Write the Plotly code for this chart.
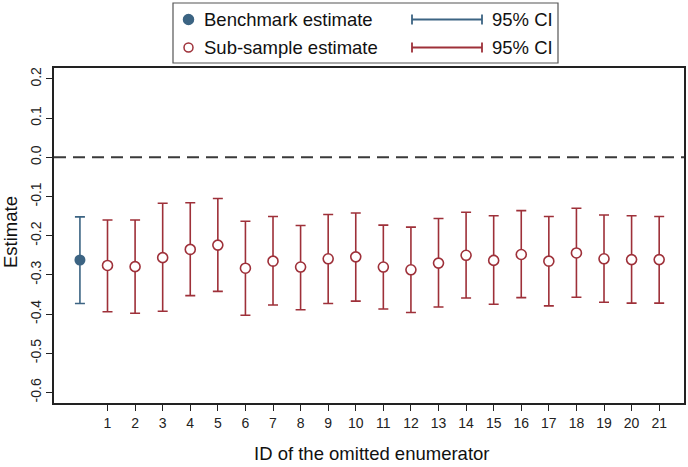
import plotly.graph_objects as go

# DATA
bench_x = [0]
bench_est = [-0.262]
bench_lo = [-0.373]
bench_hi = [-0.152]

sub_ids = list(range(1, 22))
sub_est = [-0.276, -0.279, -0.256, -0.235, -0.224, -0.283, -0.265, -0.280, -0.259, -0.254,
           -0.280, -0.287, -0.270, -0.250, -0.263, -0.248, -0.265, -0.244, -0.259, -0.261, -0.261]
sub_lo = [-0.394, -0.398, -0.393, -0.353, -0.342, -0.403, -0.377, -0.389, -0.373, -0.367,
          -0.387, -0.396, -0.382, -0.359, -0.375, -0.358, -0.379, -0.357, -0.370, -0.372, -0.372]
sub_hi = [-0.160, -0.160, -0.117, -0.116, -0.105, -0.163, -0.151, -0.174, -0.146, -0.142,
          -0.173, -0.178, -0.156, -0.140, -0.149, -0.136, -0.151, -0.130, -0.147, -0.149, -0.151]

y_ticks = [0.2, 0.1, 0.0, -0.1, -0.2, -0.3, -0.4, -0.5, -0.6]
y_labels = ["0.2", "0.1", "0.0", "-0.1", "-0.2", "-0.3", "-0.4", "-0.5", "-0.6"]

BLUE = "#3c6483"
RED = "#9e3039"
FONT = "Liberation Sans, Arial, sans-serif"

W, H = 688, 467
ML, MR, MT, MB = 54, 4, 68, 64
PW, PH = W - ML - MR, H - MT - MB


# pixel position -> paper coordinate
def px(x):
    return (x - ML) / PW


def py(y):
    return (H - MB - y) / PH


fig = go.Figure()

# Benchmark
fig.add_trace(go.Scatter(
    x=bench_x, y=bench_est, mode="markers",
    marker=dict(symbol="circle", size=11, color=BLUE),
    error_y=dict(type="data", symmetric=False,
                 array=[h - e for h, e in zip(bench_hi, bench_est)],
                 arrayminus=[e - l for e, l in zip(bench_est, bench_lo)],
                 color=BLUE, thickness=1.6, width=5),
    showlegend=False))

# Sub-samples
fig.add_trace(go.Scatter(
    x=sub_ids, y=sub_est, mode="markers",
    marker=dict(symbol="circle", size=10, color="white", line=dict(color=RED, width=1.6)),
    error_y=dict(type="data", symmetric=False,
                 array=[h - e for h, e in zip(sub_hi, sub_est)],
                 arrayminus=[e - l for e, l in zip(sub_est, sub_lo)],
                 color=RED, thickness=1.6, width=5),
    showlegend=False))

shapes = [
    # zero line
    dict(type="line", xref="paper", yref="y", x0=0, x1=1, y0=0, y1=0,
         line=dict(color="#3a3a3a", width=2, dash="12px,7px"), layer="below"),
    # legend box
    dict(type="rect", xref="paper", yref="paper", x0=px(173), x1=px(558), y0=py(3), y1=py(63),
         line=dict(color="#555555", width=1.2), fillcolor="white"),
]
annotations = []

legend_rows = [
    (19.5, BLUE, True, "Benchmark estimate"),
    (47.5, RED, False, "Sub-sample estimate"),
]
for ry, col, filled, label in legend_rows:
    r = 5 if filled else 4.5
    shapes.append(dict(type="circle", xref="paper", yref="paper",
                       x0=px(188.5 - r), x1=px(188.5 + r), y0=py(ry - r), y1=py(ry + r),
                       fillcolor=col if filled else "white",
                       line=dict(color=col, width=1.5)))
    shapes.append(dict(type="line", xref="paper", yref="paper",
                       x0=px(412), x1=px(482), y0=py(ry), y1=py(ry),
                       line=dict(color=col, width=1.8)))
    for cx in (412, 482):
        shapes.append(dict(type="line", xref="paper", yref="paper",
                           x0=px(cx), x1=px(cx), y0=py(ry - 5), y1=py(ry + 5),
                           line=dict(color=col, width=1.8)))
    annotations.append(dict(xref="paper", yref="paper", x=px(202), y=py(ry), text=label,
                            showarrow=False, xanchor="left", yanchor="middle",
                            font=dict(size=18.5, color="#111111", family=FONT)))
    annotations.append(dict(xref="paper", yref="paper", x=px(490), y=py(ry), text="95% CI",
                            showarrow=False, xanchor="left", yanchor="middle",
                            font=dict(size=18.5, color="#111111", family=FONT)))

# axis titles
annotations.append(dict(xref="paper", yref="paper", x=px((253 + 489) / 2), y=py(454),
                        text="ID of the omitted enumerator", showarrow=False,
                        xanchor="center", yanchor="middle",
                        font=dict(size=18.5, color="#111111", family=FONT)))
annotations.append(dict(xref="paper", yref="paper", x=px(11), y=py(232),
                        text="Estimate", showarrow=False, textangle=-90,
                        xanchor="center", yanchor="middle",
                        font=dict(size=18.5, color="#111111", family=FONT)))

fig.update_layout(
    width=W, height=H,
    margin=dict(l=ML, r=MR, t=MT, b=MB, autoexpand=False),
    paper_bgcolor="white", plot_bgcolor="white",
    font=dict(family=FONT, size=13, color="#222222"),
    shapes=shapes, annotations=annotations,
    showlegend=False,
)

fig.update_xaxes(range=[-0.94, 21.9], tickvals=sub_ids, ticks="outside", ticklen=6,
                 tickcolor="#222222", showgrid=False, zeroline=False,
                 showline=True, linecolor="#222222", linewidth=1.5, mirror=True,
                 tickfont=dict(size=14))
fig.update_yaxes(range=[-0.627, 0.228], tickvals=y_ticks, ticktext=y_labels, tickangle=-90,
                 ticks="outside", ticklen=6, tickcolor="#222222", showgrid=False, zeroline=False,
                 showline=True, linecolor="#222222", linewidth=1.5, mirror=True,
                 tickfont=dict(size=14))

# drop the page's default body margin so the figure sits at the window corner
fig.write_html("out.html", config={"displayModeBar": False},
               post_script="document.body.style.margin='0';")
